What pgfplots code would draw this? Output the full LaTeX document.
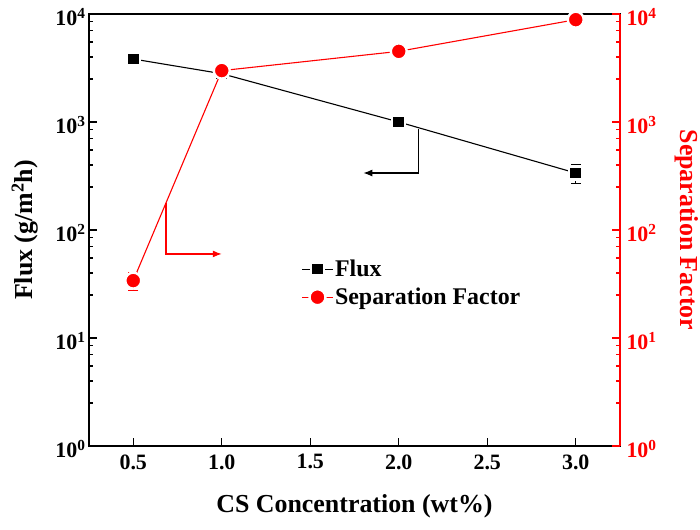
\documentclass[border=0pt]{standalone}
\usepackage{pgfplots}
\pgfplotsset{compat=1.18}
\usepackage{pgfplotstable}
\usepackage{fontspec}
\setmainfont{Liberation Serif}
\usetikzlibrary{arrows.meta}

\pgfplotstableread{
x y err
0.5 3830 0
1.0 2800 0
2.0 1000 0
3.0 337 65
}\fluxdata
\pgfplotstableread{
x y err
0.5 34 6.5
1.0 2990 0
2.0 4510 0
3.0 8860 0
}\sepdata

\pgfplotsset{
  legend image code/.code={\draw[mark repeat=2,mark phase=2,#1] plot coordinates {(0cm,0cm) (0.53cm,0cm) (1.06cm,0cm)};},
}

\begin{document}
\begin{tikzpicture}
\begin{axis}[
  scale only axis, width=531bp, height=432bp,
  xmin=0.25, xmax=3.25, ymode=log, ymin=1, ymax=10000,
  tick align=inside,
  major tick length=8bp, minor tick length=4bp,
  ytick={1,10,100,1000,10000},
  yticklabels={10\textsuperscript{0},10\textsuperscript{1},10\textsuperscript{2},10\textsuperscript{3},10\textsuperscript{4}},
  minor ytick={2.5,4,5.5,7,8.5,25,40,55,70,85,250,400,550,700,850,2500,4000,5500,7000,8500},
  tick label style={font=\fontsize{22}{24}\selectfont\bfseries},
  yticklabel style={inner ysep=1bp, yshift=-3bp},
  xticklabel style={yshift=-5bp},
  every axis x label/.style={at={(rel axis cs:0.5,0)}, yshift=-60bp, anchor=center,
    inner sep=0pt, font=\fontsize{26}{30}\selectfont\bfseries},
  every axis y label/.style={at={(rel axis cs:0,0.5)}, xshift=-64bp, rotate=90,
    anchor=center, inner sep=0pt, font=\fontsize{26}{30}\selectfont\bfseries},
  axis line style={line width=1.3bp},
  every tick/.style={black, line width=1.1bp},
  xtick={0.5,1.0,1.5,2.0,2.5,3.0},
  xticklabels={0.5,1.0,1.5,2.0,2.5,3.0},
  xtick pos=bottom, ytick pos=left,
  xlabel={CS Concentration (wt\%)},
  ylabel={Flux (g/m\textsuperscript{2}h)},
]
\addplot[black, line width=1.1bp, mark=square*,
  mark size=6.5bp, mark options={fill=black, draw=white, line width=2.4bp},
  error bars/.cd, y dir=both, y explicit,
  error bar style={black, line width=1.1bp},
  error mark options={rotate=90, mark size=5bp, line width=1.1bp, black}]
  table[x=x, y=y, y error=err] {\fluxdata};
\draw[black, line width=1.1bp, -{Latex[length=9bp,width=7bp]}]
  (axis cs:2.114,860) -- (axis cs:2.114,337) -- (axis cs:1.80,337);
\end{axis}
\begin{axis}[
  scale only axis, width=531bp, height=432bp,
  xmin=0.25, xmax=3.25, ymode=log, ymin=1, ymax=10000,
  tick align=inside,
  major tick length=8bp, minor tick length=4bp,
  ytick={1,10,100,1000,10000},
  yticklabels={10\textsuperscript{0},10\textsuperscript{1},10\textsuperscript{2},10\textsuperscript{3},10\textsuperscript{4}},
  minor ytick={2.5,4,5.5,7,8.5,25,40,55,70,85,250,400,550,700,850,2500,4000,5500,7000,8500},
  tick label style={font=\fontsize{22}{24}\selectfont\bfseries},
  yticklabel style={red, xshift=3bp, inner ysep=1bp, yshift=-3bp},
  axis x line=none,
  axis y line*=right,
  y axis line style={red, line width=1.3bp},
  every tick/.style={red, line width=1.1bp},
  ylabel={Separation Factor},
  every axis y label/.style={at={(rel axis cs:1,0.5)}, xshift=67bp, rotate=-90,
    anchor=center, inner sep=0pt, red, font=\fontsize{26}{30}\selectfont\bfseries},
  legend style={draw=none, fill=none, at={(0.395,0.44)}, anchor=north west,
    font=\fontsize{24}{26}\selectfont\bfseries, row sep=6bp},
  legend cell align=left,
]
\addlegendimage{black, line width=1.1bp, mark=square*, mark size=6.5bp, mark options={fill=black, draw=white, line width=2.4bp}}
\addlegendentry{Flux}
\addplot[red, line width=1.1bp, mark=*,
  mark size=8bp, mark options={fill=red, draw=white, line width=2.4bp},
  error bars/.cd, y dir=both, y explicit,
  error bar style={red, line width=1.1bp},
  error mark options={rotate=90, mark size=5bp, line width=1.1bp, red}]
  table[x=x, y=y, y error=err] {\sepdata};
\addlegendentry{Separation Factor}
\draw[red, line width=1.1bp, -{Latex[length=9bp,width=7bp]}]
  (axis cs:0.685,179) -- (axis cs:0.685,60) -- (axis cs:1.0,60);
\end{axis}
\path (current axis.south west) ++(-89bp,-84bp) rectangle ++(700bp,530bp);
\end{tikzpicture}
\end{document}
